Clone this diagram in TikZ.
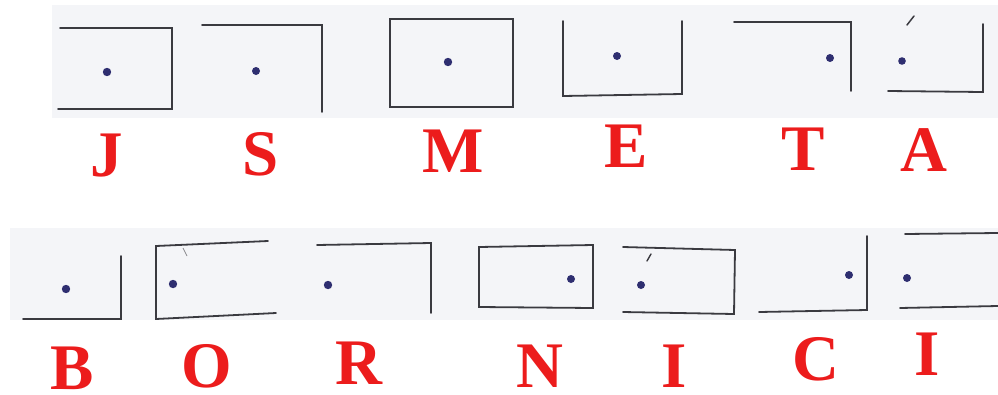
\documentclass[tikz,border=0pt]{standalone}
\usepackage{fontspec}
\setmainfont{Liberation Serif}
\definecolor{ink}{HTML}{3A3A40}
\definecolor{dotc}{HTML}{2E2E70}
\definecolor{redl}{HTML}{EC1C1C}
\definecolor{paper}{HTML}{F4F5F8}
\tikzset{
  pen/.style={draw=ink, line width=1.8pt, line cap=round, line join=miter},
  pt/.style={fill=dotc},
  letter/.style={text=redl, font=\fontsize{65}{65}\selectfont\bfseries, anchor=base, inner sep=0pt},
  strip/.style={fill=paper, draw=none}
}
\begin{document}
\begin{tikzpicture}[x=1pt,y=-1pt]
\useasboundingbox (0,0) rectangle (998,394);
\fill[white] (0,0) rectangle (998,394);
% scanned strips
\path[strip] (52,5) rectangle (998,118);
\path[strip] (10,228) rectangle (998,320);

% ---------- top row ----------
% J : top, right, bottom
\draw[pen] (60,28) -- (172,28) -- (172,109) -- (58,109);
\fill[pt] (107,72) circle (4.2);
% S : top, right
\draw[pen] (202,25) -- (322,25) -- (322,112);
\fill[pt] (256,71) circle (4);
% M : full box
\draw[pen] (390,19) rectangle (513,107);
\fill[pt] (448,62) circle (4.2);
% E : left, bottom, right
\draw[pen] (563,21) -- (563,96) -- (682,94) -- (682,21);
\fill[pt] (617,56) circle (4);
% T : top, right
\draw[pen] (734,22) -- (851,22) -- (851,91);
\fill[pt] (830,58) circle (4);
% A : right, bottom (+ tick)
\draw[pen] (888,91) -- (983,92) -- (983,24);
\draw[pen, line width=1.5pt] (907,25) -- (914,16);
\fill[pt] (902,61) circle (3.8);

\node[letter] (J) at (107,176) {J};
\node[letter] (S) at (261,175) {S};
\node[letter] (M) at (453,172) {M};
\node[letter] (E) at (626,167) {E};
\node[letter] (T) at (803,170) {T};
\node[letter] (A) at (924,171) {A};

% ---------- bottom row ----------
% B : right, bottom
\draw[pen] (23,319) -- (121,319) -- (121,256);
\fill[pt] (66,289) circle (4.2);
% O : top, left, bottom
\draw[pen] (268,241) -- (156,246) -- (156,319) -- (276,313);
\draw[ink!60, line width=0.8pt] (183,248) -- (187,256);
\fill[pt] (173,284) circle (4.2);
% R : top, right
\draw[pen] (317,245) -- (431,243) -- (431,313);
\fill[pt] (328,285) circle (4.2);
% N : full box
\draw[pen] (479,247) -- (593,245) -- (593,308) -- (479,307) -- cycle;
\fill[pt] (571,279) circle (4);
% I : top, right, bottom (+ tick)
\draw[pen] (623,247) -- (735,250) -- (734,314) -- (623,312);
\draw[pen, line width=1.4pt] (647,261) -- (651,254);
\fill[pt] (641,285) circle (4);
% C : right, bottom
\draw[pen] (759,312) -- (867,310) -- (867,236);
\fill[pt] (849,275) circle (4);
% I : top, bottom
\draw[pen] (905,234) -- (998,233);
\draw[pen] (900,308) -- (998,306);
\fill[pt] (907,278) circle (4);

\node[letter] (B) at (72,389) {B};
\node[letter] (O) at (207,387) {O};
\node[letter] (R) at (359,384) {R};
\node[letter] (N) at (540,387) {N};
\node[letter] (I) at (674,387) {I};
\node[letter] (C) at (816,380) {C};
\node[letter] (I2) at (927,375) {I};
\end{tikzpicture}
\end{document}
